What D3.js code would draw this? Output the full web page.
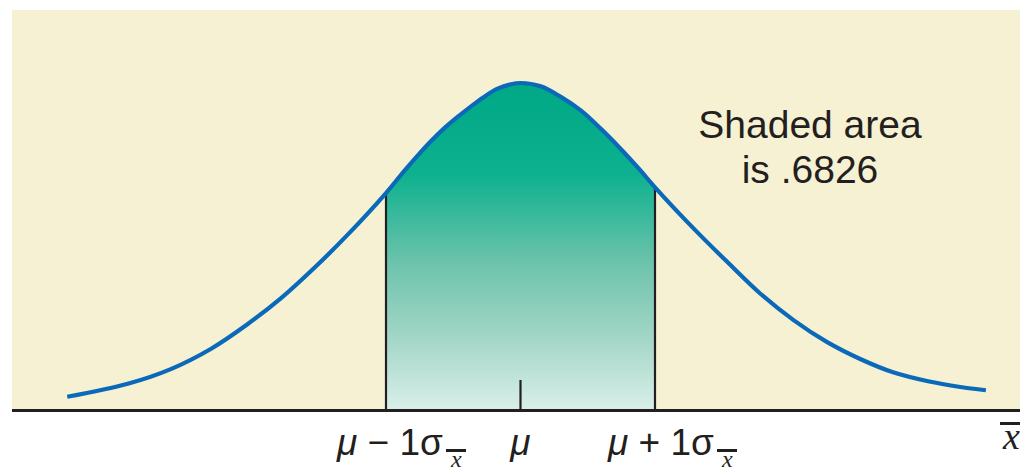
<!DOCTYPE html>
<html>
<head>
<meta charset="utf-8">
<script src="https://cdn.jsdelivr.net/npm/d3@7"></script>
<style>
  body { margin: 0; background: #ffffff; }
  svg { display: block; }
</style>
</head>
<body>
<div id="chart"></div>
<script>
// Curve: position in sigma units, height in density units
var curveZ = [-3.37, -2.92, -2.60, -2.30, -2.03, -1.78, -1.54, -1.29, -1.00,
              -0.87, -0.77, -0.67, -0.57, -0.47, -0.37, -0.28, -0.17, -0.07, 0.00,
              0.15, 0.30, 0.45, 0.59, 0.74, 0.89, 1.00, 1.29, 1.54,
              1.78, 2.03, 2.28, 2.53, 2.77, 3.03, 3.27, 3.46];
var curveDensity = [0.015, 0.031, 0.049, 0.074, 0.104, 0.136, 0.172, 0.213, 0.265,
                    0.291, 0.310, 0.328, 0.344, 0.358, 0.371, 0.382, 0.393, 0.3985, 0.400,
                    0.396, 0.383, 0.366, 0.345, 0.320, 0.293, 0.272, 0.221, 0.180,
                    0.142, 0.109, 0.082, 0.061, 0.045, 0.034, 0.027, 0.023];

var shadeFrom = -1;
var shadeTo = 1;
var shadeLabel = ["Shaded area", "is .6826"];

var width = 1020;
var height = 472;
var baseY = 409;

var x = d3.scaleLinear().domain([-1, 1]).range([386, 655]);
var y = d3.scaleLinear().domain([0, 0.4]).range([baseY, 83]);

var points = curveZ.map(function(z, i) { return { z: z, d: curveDensity[i] }; });

var ink = "#231f20";
var sans = "Liberation Sans, Arial, sans-serif";
var serif = "Liberation Serif, Times New Roman, serif";

var svg = d3.select("#chart").append("svg")
    .attr("width", width)
    .attr("height", height);

// Cream panel
svg.append("rect")
    .attr("x", 12)
    .attr("y", 10)
    .attr("width", width - 12)
    .attr("height", baseY - 10)
    .attr("fill", "#f7f1d3");

// Gradient for the shaded area
var grad = svg.append("defs").append("linearGradient")
    .attr("id", "shade")
    .attr("gradientUnits", "userSpaceOnUse")
    .attr("x1", 0).attr("x2", 0)
    .attr("y1", y(0.4)).attr("y2", baseY);
grad.append("stop").attr("offset", 0).attr("stop-color", "#00a886");
grad.append("stop").attr("offset", 0.28).attr("stop-color", "#0db18f");
grad.append("stop").attr("offset", 0.55).attr("stop-color", "#6cc3ab");
grad.append("stop").attr("offset", 0.78).attr("stop-color", "#a2d6c6");
grad.append("stop").attr("offset", 1).attr("stop-color", "#d8efe8");

var area = d3.area()
    .x(function(d) { return x(d.z); })
    .y0(baseY)
    .y1(function(d) { return y(d.d); })
    .curve(d3.curveCatmullRom);

svg.append("path")
    .datum(points.filter(function(d) { return d.z >= shadeFrom && d.z <= shadeTo; }))
    .attr("d", area)
    .attr("fill", "url(#shade)");

// Boundary lines at mu +/- 1 sigma
var edges = points.filter(function(d) { return d.z === shadeFrom || d.z === shadeTo; });
svg.selectAll("line.edge")
    .data(edges)
    .enter().append("line")
    .attr("class", "edge")
    .attr("x1", function(d) { return x(d.z); })
    .attr("x2", function(d) { return x(d.z); })
    .attr("y1", baseY)
    .attr("y2", function(d) { return y(d.d); })
    .attr("stroke", ink)
    .attr("stroke-width", 2.2);

// Small tick at mu
svg.append("line")
    .attr("x1", x(0)).attr("x2", x(0))
    .attr("y1", baseY).attr("y2", 380)
    .attr("stroke", ink)
    .attr("stroke-width", 2.2);

// The curve
var line = d3.line()
    .x(function(d) { return x(d.z); })
    .y(function(d) { return y(d.d); })
    .curve(d3.curveCatmullRom);

svg.append("path")
    .datum(points)
    .attr("d", line)
    .attr("fill", "none")
    .attr("stroke", "#0a69b8")
    .attr("stroke-width", 4.2);

// Axis line
svg.append("line")
    .attr("x1", 12).attr("x2", width)
    .attr("y1", baseY + 1.5).attr("y2", baseY + 1.5)
    .attr("stroke", ink)
    .attr("stroke-width", 3);

// Annotation
svg.append("g").selectAll("text")
    .data(shadeLabel)
    .enter().append("text")
    .attr("x", 810)
    .attr("y", function(d, i) { return 138 + i * 45; })
    .attr("text-anchor", "middle")
    .attr("font-family", sans)
    .attr("font-size", 39)
    .attr("fill", ink)
    .text(function(d) { return d; });

// x with a bar over it
function xBar(px, py, size, barY, pad) {
    var t = svg.append("text")
        .attr("x", px)
        .attr("y", py)
        .attr("font-family", serif)
        .attr("font-style", "italic")
        .attr("font-size", size)
        .attr("fill", ink)
        .text("x");
    var b = t.node().getBBox();
    svg.append("line")
        .attr("x1", b.x - pad).attr("x2", b.x + b.width + pad)
        .attr("y1", barY).attr("y2", barY)
        .attr("stroke", ink)
        .attr("stroke-width", 3);
}

// Tick labels
function sigmaLabel(z, sign, dx) {
    var t = svg.append("text")
        .attr("x", x(z) + dx)
        .attr("y", 455)
        .attr("font-family", sans)
        .attr("font-size", 37)
        .attr("fill", ink);
    t.append("tspan").attr("font-style", "italic").text("\u03bc");
    t.append("tspan").text(" " + sign + " 1\u03c3");
    var b = t.node().getBBox();
    xBar(b.x + b.width + 8, 467, 24, 450.5, 4);
}

sigmaLabel(-1, "\u2212", -49);
sigmaLabel(1, "+", -47);

svg.append("text")
    .attr("x", x(0))
    .attr("y", 455)
    .attr("text-anchor", "middle")
    .attr("font-family", sans)
    .attr("font-size", 37)
    .attr("font-style", "italic")
    .attr("fill", ink)
    .text("\u03bc");

// Axis name x-bar at the right edge
xBar(1003, 449, 38, 423.5, 2);
</script>
</body>
</html>
